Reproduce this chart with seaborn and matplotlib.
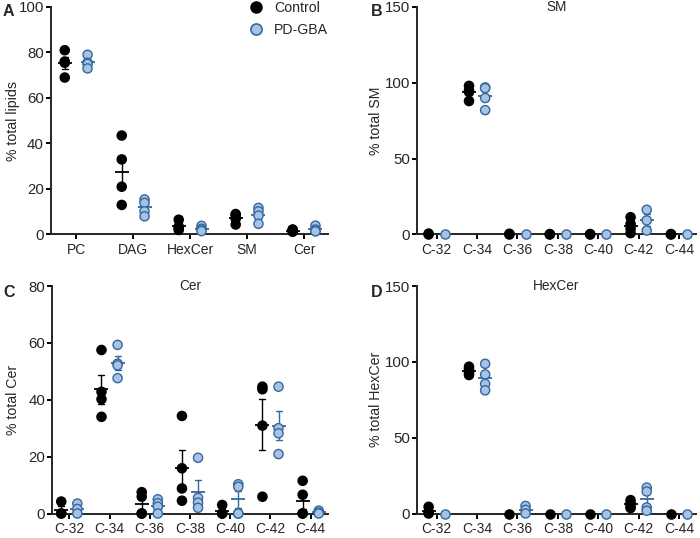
import numpy as np
import pandas as pd
import matplotlib
matplotlib.use("Agg")
import matplotlib.pyplot as plt
from matplotlib.lines import Line2D
import seaborn as sns

# ---- data ----
groups = ["Control", "PD-GBA"]

lipid_classes = ["PC", "DAG", "HexCer", "SM", "Cer"]
lipids_control = [[81, 76, 75.5, 69], [43.5, 33, 21, 13], [6.5, 3.5, 2.8, 2], [9, 8.5, 7, 4.4], [2.2, 2, 1.5, 1.2]]
lipids_pdgba = [[79, 75.5, 75, 73], [15.4, 13.9, 10.2, 8], [3.8, 2.5, 2.2, 1.5], [11.7, 10.2, 8.3, 4.7], [3.9, 2.2, 1.5, 1.4]]

chain_lengths = ["C-32", "C-34", "C-36", "C-38", "C-40", "C-42", "C-44"]
sm_control = [[0.6, 0], [98, 95, 94, 88], [0.5, 0], [0.3, 0], [0.3, 0], [11.4, 7, 3.8, 0.9], [0.3, 0]]
sm_pdgba = [[0], [97, 96.5, 90, 82], [0], [0], [0], [16.3, 9.3, 2.6], [0]]

cer_control = [[4.2, 0, 0], [57.5, 42.8, 40.2, 34], [7.5, 5.9, 0, 0], [34.3, 15.9, 8.8, 4.5], [3, 0, 0], [44.6, 43.7, 30.9, 5.9], [11.5, 6.6, 0, 0]]
cer_pdgba = [[3.5, 1.6, 0], [59.3, 52.7, 52.1, 47.6], [5, 3.6, 2.4, 0], [19.6, 5.5, 3.8, 2], [10.3, 9.4, 0, 0], [44.6, 30, 28.2, 20.9], [1, 0.3, 0]]

hexcer_control = [[4.4, 0.9, 0], [96.8, 95, 92.6, 91.3], [0], [0], [0], [8.8, 6.8, 4.6, 3.6], [0]]
hexcer_pdgba = [[0], [98.7, 91.7, 85.5, 81.2], [5, 2.4, 0], [0], [0], [17.1, 14.5, 4, 1.8], [0]]

BLUE_FILL = "#a6c3e6"
BLUE_EDGE = "#35679c"
dot_palette = {"Control": "black", "PD-GBA": BLUE_FILL}
bar_palette = {"Control": "black", "PD-GBA": BLUE_EDGE}


def to_long(cats, ctrl, pd_):
    rows = []
    for c, a, b in zip(cats, ctrl, pd_):
        for v in a:
            rows.append({"cat": c, "group": "Control", "value": v})
        for v in b:
            rows.append({"cat": c, "group": "PD-GBA", "value": v})
    return pd.DataFrame(rows)


sns.set_theme(style="ticks")
plt.rcParams["font.family"] = ["Liberation Sans", "DejaVu Sans"]
plt.rcParams["axes.linewidth"] = 1.4

fig = plt.figure(figsize=(7, 5.38), dpi=100)
W, H = 700, 538


def add_ax(left, right, top, bottom):
    return fig.add_axes([left / W, 1 - bottom / H, (right - left) / W, (bottom - top) / H])


panels = [
    dict(ax=add_ax(50.5, 328, 7, 234.5), cats=lipid_classes, c=lipids_control, p=lipids_pdgba,
         ylim=100, yticks=[0, 20, 40, 60, 80, 100], xlim=(-0.45, 4.42), ylabel="% total lipids",
         title=None, letter="A", lpos=(3, 4), spacing=57.1, labx=-0.11),
    dict(ax=add_ax(416.5, 696, 7, 234.5), cats=chain_lengths, c=sm_control, p=sm_pdgba,
         ylim=150, yticks=[0, 50, 100, 150], xlim=(-0.5, 6.42), ylabel="% total SM",
         title="SM", letter="B", lpos=(371, 4), spacing=40.4, labx=-0.12),
    dict(ax=add_ax(52, 328, 286, 513.5), cats=chain_lengths, c=cer_control, p=cer_pdgba,
         ylim=80, yticks=[0, 20, 40, 60, 80], xlim=(-0.43, 6.43), ylabel="% total Cer",
         title="Cer", letter="C", lpos=(3, 285), spacing=40.2, labx=-0.116),
    dict(ax=add_ax(416.5, 696, 286, 513.5), cats=chain_lengths, c=hexcer_control, p=hexcer_pdgba,
         ylim=150, yticks=[0, 50, 100, 150], xlim=(-0.5, 6.42), ylabel="% total HexCer",
         title="HexCer", letter="D", lpos=(371, 285), spacing=40.4, labx=-0.12),
]

for pn in panels:
    ax = pn["ax"]
    df = to_long(pn["cats"], pn["c"], pn["p"])

    # mean +/- SEM
    sns.pointplot(data=df, x="cat", y="value", hue="group", order=pn["cats"], hue_order=groups,
                  palette=bar_palette, errorbar="se", capsize=6 / pn["spacing"], dodge=0.4,
                  marker="_", linestyle="none", markersize=10, markeredgewidth=1.3,
                  err_kws={"linewidth": 1.0}, legend=False, ax=ax, zorder=2)

    # individual points
    sns.stripplot(data=df, x="cat", y="value", hue="group", order=pn["cats"], hue_order=groups,
                  palette=dot_palette, dodge=True, jitter=False, size=6.6, linewidth=1.0,
                  edgecolor=BLUE_EDGE, legend=False, ax=ax, zorder=4, clip_on=False)
    for coll in ax.collections:
        fc = coll.get_facecolor()
        if len(fc) and fc[0][:3].sum() < 0.1:
            coll.set_edgecolor("black")

    ax.set_xlim(*pn["xlim"])
    ax.set_ylim(0, pn["ylim"])
    ax.set_yticks(pn["yticks"])
    ax.set_xlabel("")
    ax.set_ylabel(pn["ylabel"], fontsize=10.2)
    ax.yaxis.set_label_coords(pn["labx"], 0.5)
    sns.despine(ax=ax)
    ax.tick_params(axis="both", width=1.4, length=3.6, color="black", pad=1.2)
    ax.tick_params(axis="y", labelsize=10.8)
    ax.tick_params(axis="x", labelsize=10, pad=2.5)
    if pn["title"]:
        ax.text(0.5, 1.0, pn["title"], transform=ax.transAxes, ha="center", va="center", fontsize=9.8)
    fig.text(pn["lpos"][0] / W, 1 - pn["lpos"][1] / H, pn["letter"], fontsize=11.5,
             fontweight="bold", ha="left", va="top")

# legend in panel A
handles = [
    Line2D([], [], marker="o", linestyle="none", markerfacecolor="black", markeredgecolor="black", markersize=8),
    Line2D([], [], marker="o", linestyle="none", markerfacecolor=BLUE_FILL, markeredgecolor=BLUE_EDGE,
           markeredgewidth=1.2, markersize=8),
]
panels[0]["ax"].legend(handles, groups, loc="upper left", bbox_to_anchor=(240 / W, 1.0),
                       bbox_transform=fig.transFigure, frameon=False, fontsize=10.2,
                       handletextpad=0.3, labelspacing=0.55, borderaxespad=0, borderpad=0.1)

fig.savefig("out.png", dpi=100)
